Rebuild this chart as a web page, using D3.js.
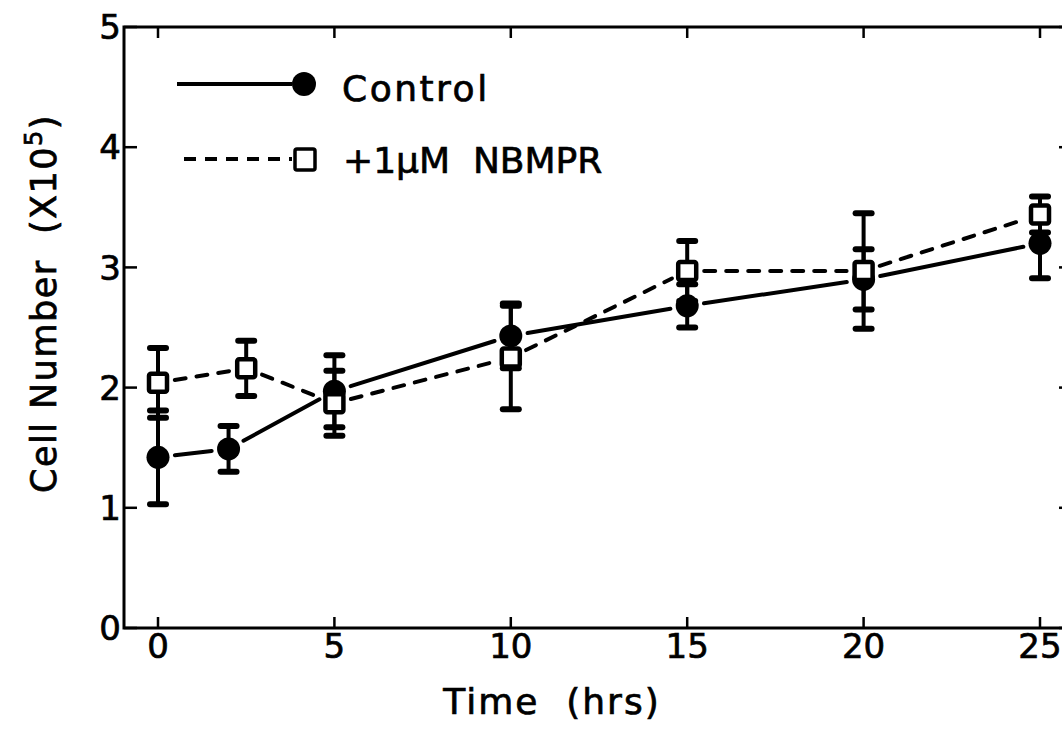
<!DOCTYPE html>
<html>
<head>
<meta charset="utf-8">
<script src="https://cdn.jsdelivr.net/npm/d3@7"></script>
<style>
  html, body { margin: 0; padding: 0; background: #fff; }
  svg { display: block; }
  text { font-family: "DejaVu Sans", sans-serif; fill: #000; stroke: #000; stroke-width: 0.7px; }
</style>
</head>
<body>
<svg id="chart" width="1062" height="731"></svg>
<script>
// ---- data ----
const xTicks = [0, 5, 10, 15, 20, 25];
const yTicks = [0, 1, 2, 3, 4, 5];

const controlTime = [0, 2, 5, 10, 15, 20, 25];
const controlValue = [1.42, 1.49, 1.97, 2.43, 2.68, 2.90, 3.20];
const controlErr = [0.39, 0.19, 0.30, 0.27, 0.18, 0.25, 0.29];

const nbmprTime = [0, 2.5, 5, 10, 15, 20, 25];
const nbmprValue = [2.04, 2.16, 1.87, 2.25, 2.97, 2.97, 3.44];
const nbmprErr = [0.29, 0.23, 0.27, 0.43, 0.25, 0.48, 0.15];

const legendLabels = ["Control", "+1\u03bcM  NBMPR"];

// ---- layout ----
const svg = d3.select("#chart");
const x = d3.scaleLinear().domain([0, 25]).range([158, 1040]);
const y = d3.scaleLinear().domain([0, 5]).range([628, 27]);
const pLeft = 124, pRight = 1072, pTop = y(5), pBottom = y(0);

const g = svg.append("g");

// frame
g.append("path")
  .attr("d", `M${pRight},${pTop}H${pLeft}V${pBottom}H${pRight}V${pTop}`)
  .attr("fill", "none").attr("stroke", "#000").attr("stroke-width", 3);

// ticks
xTicks.forEach(t => {
  g.append("line").attr("x1", x(t)).attr("x2", x(t)).attr("y1", pBottom).attr("y2", pBottom - 11)
    .attr("stroke", "#000").attr("stroke-width", 2.5);
  g.append("line").attr("x1", x(t)).attr("x2", x(t)).attr("y1", pTop).attr("y2", pTop + 11)
    .attr("stroke", "#000").attr("stroke-width", 2.5);
  g.append("text").attr("x", x(t)).attr("y", pBottom + 30)
    .attr("text-anchor", "middle").attr("font-size", 34).text(t);
});
yTicks.forEach(t => {
  g.append("line").attr("x1", pLeft).attr("x2", pLeft + 13).attr("y1", y(t)).attr("y2", y(t))
    .attr("stroke", "#000").attr("stroke-width", 2.5);
  g.append("line").attr("x1", pRight).attr("x2", pRight - 13).attr("y1", y(t)).attr("y2", y(t))
    .attr("stroke", "#000").attr("stroke-width", 2.5);
  g.append("text").attr("x", pLeft - 3).attr("y", y(t)).attr("dy", "0.36em")
    .attr("text-anchor", "end").attr("font-size", 34).text(t);
});

// axis titles
g.append("text").attr("x", 552).attr("y", 714)
  .attr("text-anchor", "middle").attr("font-size", 36).attr("letter-spacing", 2)
  .style("white-space", "pre").text("Time  (hrs)");

const yt = g.append("text")
  .attr("transform", `translate(56,${(110 + 497) / 2}) rotate(-90)`)
  .attr("text-anchor", "middle").attr("font-size", 35).attr("letter-spacing", 1.5)
  .style("white-space", "pre");
yt.append("tspan").text("Cell Number  (X10");
yt.append("tspan").attr("font-size", 24).attr("dy", -14).text("5");
yt.append("tspan").attr("dy", 14).text(")");

// helper: segments with gaps near markers
function gappedSegments(times, vals, gap) {
  const segs = [];
  for (let i = 0; i < times.length - 1; i++) {
    const x1 = x(times[i]), y1 = y(vals[i]), x2 = x(times[i + 1]), y2 = y(vals[i + 1]);
    const L = Math.hypot(x2 - x1, y2 - y1);
    const ux = (x2 - x1) / L, uy = (y2 - y1) / L;
    segs.push([x1 + ux * gap, y1 + uy * gap, x2 - ux * gap, y2 - uy * gap]);
  }
  return segs;
}

// lines
g.selectAll(".ctrlLine").data(gappedSegments(controlTime, controlValue, 17)).join("line")
  .attr("x1", d => d[0]).attr("y1", d => d[1]).attr("x2", d => d[2]).attr("y2", d => d[3])
  .attr("stroke", "#000").attr("stroke-width", 4).attr("stroke-linecap", "round");
g.selectAll(".nbLine").data(gappedSegments(nbmprTime, nbmprValue, 17)).join("line")
  .attr("x1", d => d[0]).attr("y1", d => d[1]).attr("x2", d => d[2]).attr("y2", d => d[3])
  .attr("stroke", "#000").attr("stroke-width", 4).attr("stroke-dasharray", "11,11")
  .attr("stroke-linecap", "round");

// error bars
function errorBars(times, vals, errs) {
  times.forEach((t, i) => {
    const cx = x(t), hi = y(vals[i] + errs[i]), lo = y(vals[i] - errs[i]);
    g.append("line").attr("x1", cx).attr("x2", cx).attr("y1", hi).attr("y2", lo)
      .attr("stroke", "#000").attr("stroke-width", 4);
    [hi, lo].forEach(yy => {
      g.append("line").attr("x1", cx - 8).attr("x2", cx + 8).attr("y1", yy).attr("y2", yy)
        .attr("stroke", "#000").attr("stroke-width", 6).attr("stroke-linecap", "round");
    });
  });
}
errorBars(controlTime, controlValue, controlErr);
errorBars(nbmprTime, nbmprValue, nbmprErr);

// markers
g.selectAll(".ctrlPt").data(controlTime).join("circle")
  .attr("cx", d => x(d)).attr("cy", (d, i) => y(controlValue[i])).attr("r", 11.5)
  .attr("fill", "#000");
g.selectAll(".nbPt").data(nbmprTime).join("rect")
  .attr("x", d => x(d) - 9).attr("y", (d, i) => y(nbmprValue[i]) - 9)
  .attr("width", 18).attr("height", 18).attr("rx", 2)
  .attr("fill", "#fff").attr("stroke", "#000").attr("stroke-width", 4.5);

// legend
g.append("line").attr("x1", 177).attr("x2", 292).attr("y1", 84).attr("y2", 84)
  .attr("stroke", "#000").attr("stroke-width", 4);
g.append("circle").attr("cx", 304).attr("cy", 84).attr("r", 12).attr("fill", "#000");
g.append("text").attr("x", 342).attr("y", 101).attr("font-size", 36).attr("letter-spacing", 2.5)
  .text(legendLabels[0]);

g.append("line").attr("x1", 184).attr("x2", 292).attr("y1", 159).attr("y2", 159)
  .attr("stroke", "#000").attr("stroke-width", 4).attr("stroke-dasharray", "12,9");
g.append("rect").attr("x", 295).attr("y", 149).attr("width", 20).attr("height", 21).attr("rx", 2)
  .attr("fill", "#fff").attr("stroke", "#000").attr("stroke-width", 3.5);
g.append("text").attr("x", 343).attr("y", 173).attr("font-size", 36)
  .style("white-space", "pre").text(legendLabels[1]);
</script>
</body>
</html>
